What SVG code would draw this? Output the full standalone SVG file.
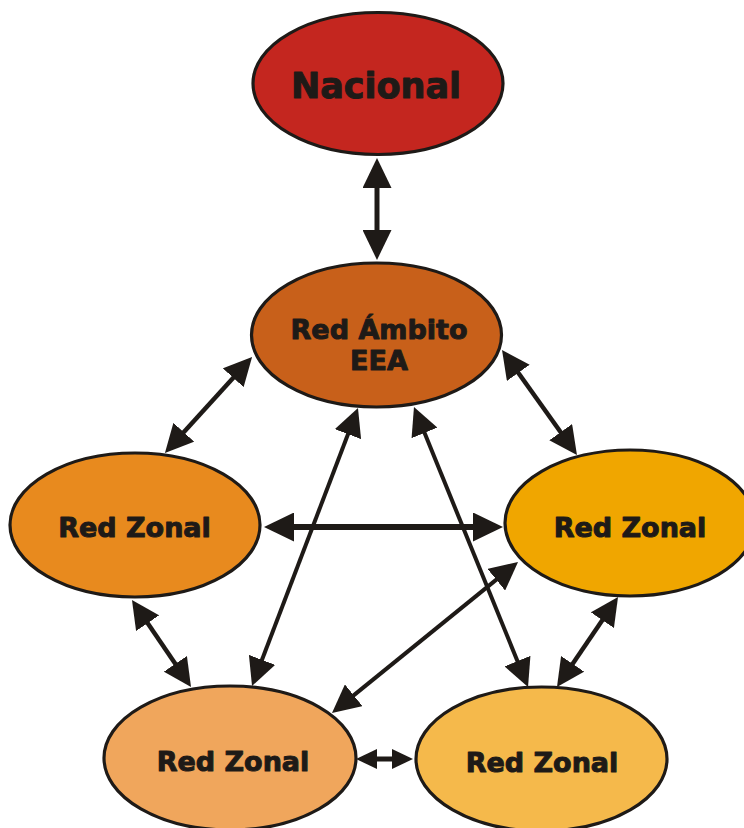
<svg xmlns="http://www.w3.org/2000/svg" width="744" height="828" viewBox="0 0 744 828">
<style>
.node{stroke:#1e1a17;stroke-width:3.2}
.lbl{font-family:"DejaVu Sans","Liberation Sans",sans-serif;font-weight:bold;fill:#1e1a17;stroke:#1e1a17;stroke-width:1;stroke-linejoin:round;text-anchor:middle}
.con{stroke:#1e1a17;fill:none}
</style>
<defs>
<marker id="ah" markerUnits="userSpaceOnUse" markerWidth="28" markerHeight="28" refX="16" refY="14" orient="auto-start-reverse" viewBox="0 0 28 28">
<path d="M0,0 L28,14 L0,28 z" fill="#1e1a17"/>
</marker>
<marker id="ahb" markerUnits="userSpaceOnUse" markerWidth="30" markerHeight="29" refX="18" refY="14.5" orient="auto-start-reverse" viewBox="0 0 30 29">
<path d="M0,0 L30,14.5 L0,29 z" fill="#1e1a17"/>
</marker>
<marker id="ahs" markerUnits="userSpaceOnUse" markerWidth="21" markerHeight="20" refX="12" refY="10" orient="auto-start-reverse" viewBox="0 0 21 20">
<path d="M0,0 L21,10 L0,20 z" fill="#1e1a17"/>
</marker>
</defs>
<rect width="744" height="828" fill="#ffffff"/>
<g id="connectors">
<line class="con" x1="377" y1="170" x2="377" y2="248" stroke-width="5" marker-start="url(#ahb)" marker-end="url(#ahb)"/>
<line class="con" x1="244" y1="365.9" x2="173" y2="444.1" stroke-width="4.5" marker-start="url(#ah)" marker-end="url(#ah)"/>
<line class="con" x1="509" y1="359.8" x2="570" y2="445.2" stroke-width="4.5" marker-start="url(#ah)" marker-end="url(#ah)"/>
<line class="con" x1="276" y1="527" x2="491" y2="527" stroke-width="6" marker-start="url(#ahb)" marker-end="url(#ahb)"/>
<line class="con" x1="353.7" y1="419.2" x2="256.3" y2="674.8" stroke-width="4" marker-start="url(#ah)" marker-end="url(#ah)"/>
<line class="con" x1="418.5" y1="418.1" x2="523.5" y2="675.9" stroke-width="4" marker-start="url(#ah)" marker-end="url(#ah)"/>
<line class="con" x1="138.7" y1="609.9" x2="184.3" y2="677.1" stroke-width="4.5" marker-start="url(#ah)" marker-end="url(#ah)"/>
<line class="con" x1="611.3" y1="606.9" x2="563.7" y2="677.1" stroke-width="4.5" marker-start="url(#ah)" marker-end="url(#ah)"/>
<line class="con" x1="508.7" y1="569.6" x2="341.3" y2="705.4" stroke-width="4" marker-start="url(#ah)" marker-end="url(#ah)"/>
<line class="con" x1="365" y1="759" x2="404" y2="759" stroke-width="5" marker-start="url(#ahs)" marker-end="url(#ahs)"/>
</g>
<g id="nacional">
<ellipse class="node" cx="378" cy="83.5" rx="125" ry="71" fill="#c4261f"/>
<text class="lbl" x="376" y="98" font-size="35" stroke-width="1.3">Nacional</text>
</g>
<g id="eea">
<ellipse class="node" cx="376.5" cy="335" rx="125" ry="72" fill="#c8601a"/>
<text class="lbl" x="379" y="339" font-size="27">Red Ámbito</text>
<text class="lbl" x="379" y="370" font-size="27">EEA</text>
</g>
<g id="zonal-left">
<ellipse class="node" cx="135" cy="525" rx="125" ry="72" fill="#e88a1e"/>
<text class="lbl" x="134.5" y="537" font-size="27">Red Zonal</text>
</g>
<g id="zonal-right">
<ellipse class="node" cx="630" cy="523" rx="125" ry="73" fill="#f0a600"/>
<text class="lbl" x="630" y="537" font-size="27">Red Zonal</text>
</g>
<g id="zonal-bottom-left">
<ellipse class="node" cx="230" cy="758" rx="126" ry="72" fill="#f0a65c"/>
<text class="lbl" x="233" y="771" font-size="27">Red Zonal</text>
</g>
<g id="zonal-bottom-right">
<ellipse class="node" cx="541.5" cy="759" rx="125.5" ry="72" fill="#f5b94b"/>
<text class="lbl" x="542" y="772" font-size="27">Red Zonal</text>
</g>
</svg>
